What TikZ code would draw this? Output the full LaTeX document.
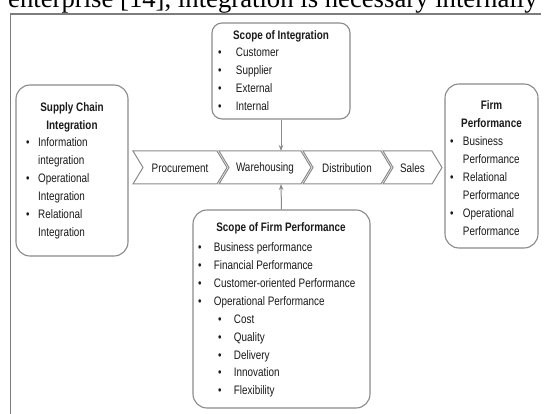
\documentclass[tikz,border=0pt]{standalone}
\usepackage{fontspec}
\setmainfont{Liberation Serif}
\newfontfamily\narrowsans[FakeStretch=0.805]{Liberation Sans}
\usetikzlibrary{arrows.meta}

\definecolor{linegray}{HTML}{8A8A8A}
\definecolor{framegray}{HTML}{7C7C7C}
\definecolor{inkgray}{HTML}{1A1A1A}

% bullet of a given width, and the matching indent for wrapped lines
\newcommand\blt[1][12pt]{\makebox[#1][l]{•}}
\newcommand\ind[1][12pt]{\hspace*{#1}}

\tikzset{
  x=1pt, y=-1pt,
  bigbox/.style={draw=linegray, line width=1.1pt, rounded corners=14pt, fill=white, inner sep=0pt},
  smallbox/.style={bigbox, rounded corners=10pt},
  chev/.style={draw=linegray, line width=1pt, fill=white, line join=miter},
  bodytext/.style={text=inkgray, inner sep=0pt, align=left,
    font=\narrowsans\fontsize{12.3}{18}\selectfont},
  titletext/.style={bodytext, align=center,
    font=\narrowsans\bfseries\fontsize{12.3}{18}\selectfont},
  arr/.style={draw=linegray, line width=1pt, -{Stealth[length=6pt,width=4.5pt]}},
}

\begin{document}
\begin{tikzpicture}
\useasboundingbox (0,0) rectangle (544,414);

% running text of the page and the figure frame
\node[anchor=base west, inner sep=0pt, font=\fontsize{26.7}{30}\selectfont] (runtext) at (8,8)
  {enterprise [14], integration is necessary internally};
\draw[framegray, line width=1.3pt] (10.5,414) -- (10.5,14) -- (541,14);

% process chain
\foreach \a/\b/\n/\t in {133/217/proc/Procurement, 219/301/ware/Warehousing,
                         303/381/dist/Distribution, 383/432/sale/Sales}{
  \draw[chev] (\a,151) -- (\b,151) -- ({\b+10},167.5) -- (\b,184) -- (\a,184)
              -- ({\a+10},167.5) -- cycle;
  \node[bodytext] (\n) at ({(\a+\b+10)/2},168) {\t};
}
\coordinate (waretop) at (281,151);
\coordinate (warebot) at (281,184);

% multi-line texts are placed by the baseline of their last line

% supply chain integration
\node[bigbox, minimum width=112pt, minimum height=171pt] (sci) at (72,170.5) {};
\node[titletext, anchor=base] (scit) at (72,130) {Supply Chain\\Integration};
\node[bodytext, anchor=base west] (scil) at (26,237)
  {\blt Information\\\ind integration\\\blt Operational\\\ind Integration\\\blt Relational\\\ind Integration};

% firm performance
\node[bigbox, minimum width=93pt, minimum height=164pt] (fp) at (491.5,166) {};
\node[titletext, anchor=base] (fpt) at (491.5,128) {Firm\\Performance};
\node[bodytext, anchor=base west] (fpl) at (450,236)
  {\blt[10pt] Business\\\ind[10pt] Performance\\\blt[10pt] Relational\\\ind[10pt] Performance\\\blt[10pt] Operational\\\ind[10pt] Performance};

% scope of integration
\node[smallbox, minimum width=138pt, minimum height=96pt] (soi) at (281,71) {};
\node[titletext, anchor=base] (soit) at (281,40) {Scope of Integration};
\node[bodytext, anchor=base west] (soil) at (218,111)
  {\blt[15pt] Customer\\\blt[15pt] Supplier\\\blt[15pt] External\\\blt[15pt] Internal};

% scope of firm performance
\node[bigbox, minimum width=177pt, minimum height=198pt] (sfp) at (281.5,309) {};
\node[titletext, anchor=base] (sfpt) at (281,232) {Scope of Firm Performance};
\node[bodytext, anchor=base west] (sfpl) at (198,395)
  {\blt[13pt] Business performance\\\blt[13pt] Financial Performance\\\blt[13pt] Customer-oriented Performance\\\blt[13pt] Operational Performance\\
   \ind[20pt]\blt[13pt] Cost\\\ind[20pt]\blt[13pt] Quality\\\ind[20pt]\blt[13pt] Delivery\\\ind[20pt]\blt[13pt] Innovation\\\ind[20pt]\blt[13pt] Flexibility};

% links into the chain
\draw[arr] (soi.south) -- (waretop);
\draw[arr] (sfp.north) -- (warebot);
\end{tikzpicture}
\end{document}
